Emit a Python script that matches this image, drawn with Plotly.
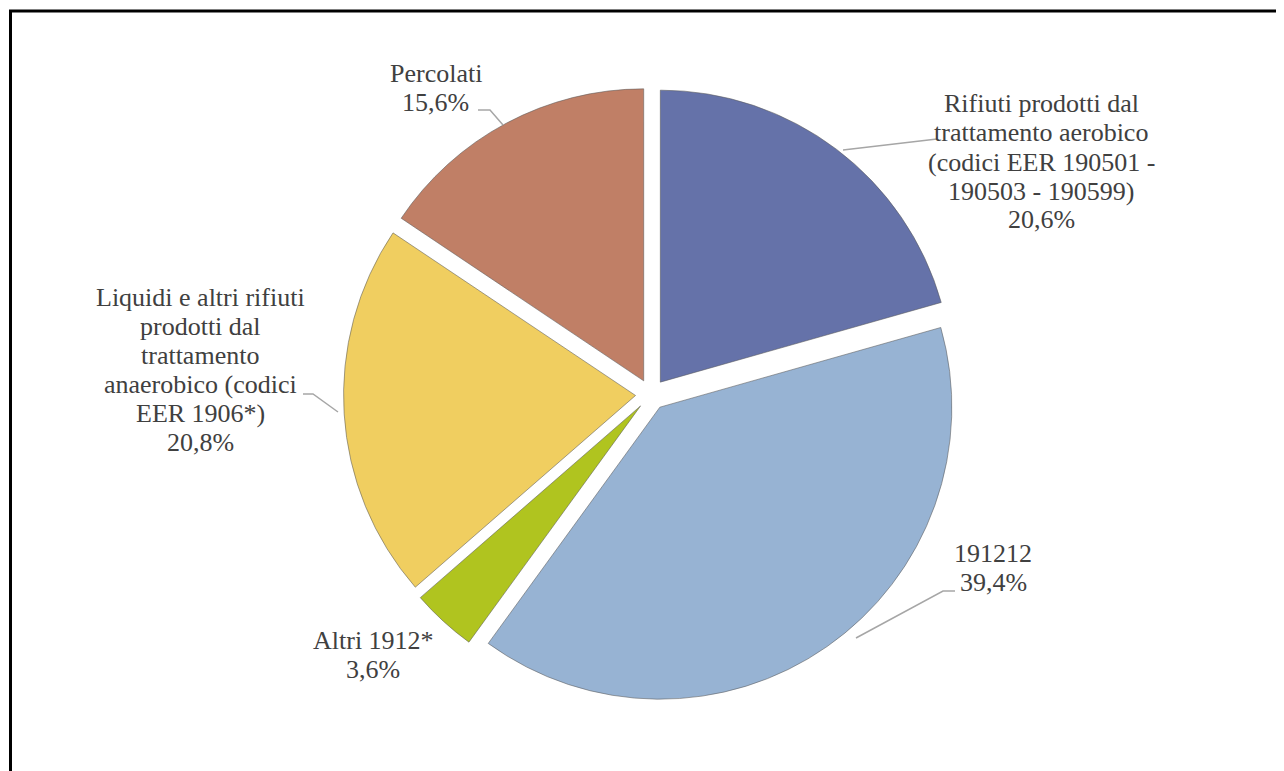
import plotly.graph_objects as go

# data
labels = [
    "Rifiuti prodotti dal<br>trattamento aerobico<br>(codici EER 190501 -<br>190503 - 190599)",
    "191212",
    "Altri 1912*",
    "Liquidi e altri rifiuti<br>prodotti dal<br>trattamento<br>anaerobico (codici<br>EER 1906*)",
    "Percolati",
]
values = [20.6, 39.4, 3.6, 20.8, 15.6]
colors = ["#6572A9", "#97B3D3", "#B0C41F", "#F0CE60", "#C07F66"]

# page has an 8px body margin, so the figure is drawn from (8, 8)
OFF = 8
W, H = 1276, 763

# label text centres and leader lines, in page pixels
label_pos = [(1041, 162), (993, 568), (373, 655), (200, 370), (436, 88)]
leaders = [
    [(843, 150), (937, 139)],
    [(955, 591), (943, 591), (856, 638)],
    None,
    [(303, 394), (313, 394), (338, 412)],
    [(478, 110), (490, 110), (503, 125)],
]

def px(x, y):
    return (x - OFF) / W, 1 - (y - OFF) / H

# pie centre and radius (page pixels)
cx, cy, r, pull = 651, 394.5, 292, 0.053
half = r * (1 + pull)
dx0, dy0 = px(cx - half, cy + half)
dx1, dy1 = px(cx + half, cy - half)

fig = go.Figure()
fig.add_trace(go.Pie(
    labels=[l.replace("<br>", " ") for l in labels],
    values=values,
    sort=False,
    direction="clockwise",
    rotation=0,
    pull=pull,
    textinfo="none",
    hoverinfo="label+percent",
    marker=dict(colors=colors, line=dict(color="rgba(90,90,90,0.55)", width=1)),
    domain=dict(x=[dx0, dx1], y=[dy0, dy1]),
    showlegend=False,
))

font = dict(family="Liberation Serif", size=26, color="#404040")
spacing = 29

for lab, v, (tx, ty) in zip(labels, values, label_pos):
    lines = lab.split("<br>") + [f"{v:.1f}%".replace(".", ",")]
    n = len(lines)
    for i, t in enumerate(lines):
        y = ty + (i - (n - 1) / 2) * spacing
        xx, yy = px(tx, y)
        fig.add_annotation(x=xx, y=yy, xref="paper", yref="paper", text=t,
                           showarrow=False, xanchor="center", yanchor="middle",
                           font=font)

for pts in leaders:
    if not pts:
        continue
    path = ""
    for j, (x, y) in enumerate(pts):
        xx, yy = px(x, y)
        path += ("M" if j == 0 else "L") + f"{xx},{yy} "
    fig.add_shape(type="path", path=path, xref="paper", yref="paper",
                  line=dict(color="#A6A6A6", width=1.5))

# outer frame (top and left edges visible)
x0, y0 = px(10.5, 11)
fig.add_shape(type="path", path=f"M{x0},-0.02 L{x0},{y0} L1.02,{y0}",
              xref="paper", yref="paper", line=dict(color="black", width=3))

fig.update_layout(
    width=W, height=H,
    margin=dict(l=0, r=0, t=0, b=0),
    paper_bgcolor="white",
    plot_bgcolor="white",
)

fig.write_html("out.html")
